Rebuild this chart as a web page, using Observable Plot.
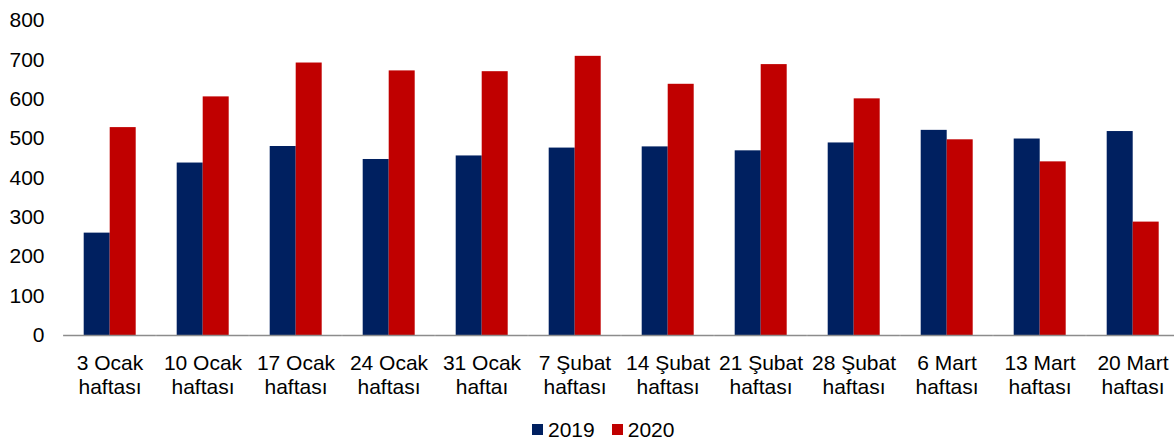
<!DOCTYPE html>
<html>
<head>
<meta charset="utf-8">
<script src="https://cdn.jsdelivr.net/npm/d3@7"></script>
<script src="https://cdn.jsdelivr.net/npm/@observablehq/plot@0.6"></script>
<style>
  html, body { margin: 0; padding: 0; background: #fff; overflow: hidden; }
  #chart { width: 1174px; height: 441px; position: relative; overflow: hidden; }
  #chart svg { display: block; position: absolute; left: 0; top: 0; }
  .legend { position: absolute; left: 532px; top: 414px; display: flex; align-items: center; height: 31px; font-family: Arial, "Liberation Sans", sans-serif; font-size: 21px; line-height: 1; color: #000; }
  .legend .sw { width: 11px; height: 11px; display: inline-block; margin-right: 5px; }
  .legend .item { display: flex; align-items: center; margin-right: 17px; }
</style>
</head>
<body>
<div id="chart"></div>
<script>
const weeks = ["3 Ocak", "10 Ocak", "17 Ocak", "24 Ocak", "31 Ocak", "7 Şubat", "14 Şubat", "21 Şubat", "28 Şubat", "6 Mart", "13 Mart", "20 Mart"];
const weekSuffix = ["haftası", "haftası", "haftası", "haftası", "haftaı", "haftası", "haftası", "haftası", "haftası", "haftası", "haftası", "haftası"];
const years = ["2019", "2020"];
const values2019 = [260, 438, 480, 447, 456, 476, 479, 469, 489, 521, 499, 518];
const values2020 = [528, 606, 692, 672, 670, 709, 638, 688, 601, 497, 441, 288];
const colors = ["#002060", "#C00000"];
const yTicks = [0, 100, 200, 300, 400, 500, 600, 700, 800];

const data = [];
weeks.forEach((w, i) => {
  data.push({week: w, year: years[0], value: values2019[i]});
  data.push({week: w, year: years[1], value: values2020[i]});
});
const labelOf = new Map(weeks.map((w, i) => [w, w + "\n" + weekSuffix[i]]));

const chart = Plot.plot({
  width: 1174,
  height: 410,
  marginTop: 20,
  marginBottom: 75,
  marginLeft: 82.3,
  marginRight: 14,
  style: {fontFamily: "Arial, 'Liberation Sans', sans-serif", fontSize: "21px", color: "#000", background: "#fff", overflow: "hidden"},
  fx: {domain: weeks, paddingInner: 0.4265, paddingOuter: 0, label: null},
  x: {domain: years, padding: 0, axis: null},
  y: {domain: [0, 800], label: null},
  color: {domain: years, range: colors},
  marks: [
    Plot.axisY({ticks: yTicks, tickSize: 0, tickPadding: 39, label: null, fontSize: 21}),
    Plot.axisFx({anchor: "bottom", tickSize: 0, tickPadding: 18, label: null, tickFormat: d => labelOf.get(d), lineHeight: 1.13, fontSize: 21}),
    Plot.barY(data, {fx: "week", x: "year", y: "value", fill: "year", inset: 0}),
    Plot.ruleY([0], {stroke: "#8c8c8c", strokeWidth: 1.5, insetLeft: -19.9, insetRight: -19.9})
  ]
});
document.getElementById("chart").appendChild(chart);

const legend = document.createElement("div");
legend.className = "legend";
years.forEach((y, i) => {
  const item = document.createElement("span");
  item.className = "item";
  const sw = document.createElement("span");
  sw.className = "sw";
  sw.style.background = colors[i];
  item.appendChild(sw);
  item.appendChild(document.createTextNode(y));
  legend.appendChild(item);
});
document.getElementById("chart").appendChild(legend);
</script>
</body>
</html>
